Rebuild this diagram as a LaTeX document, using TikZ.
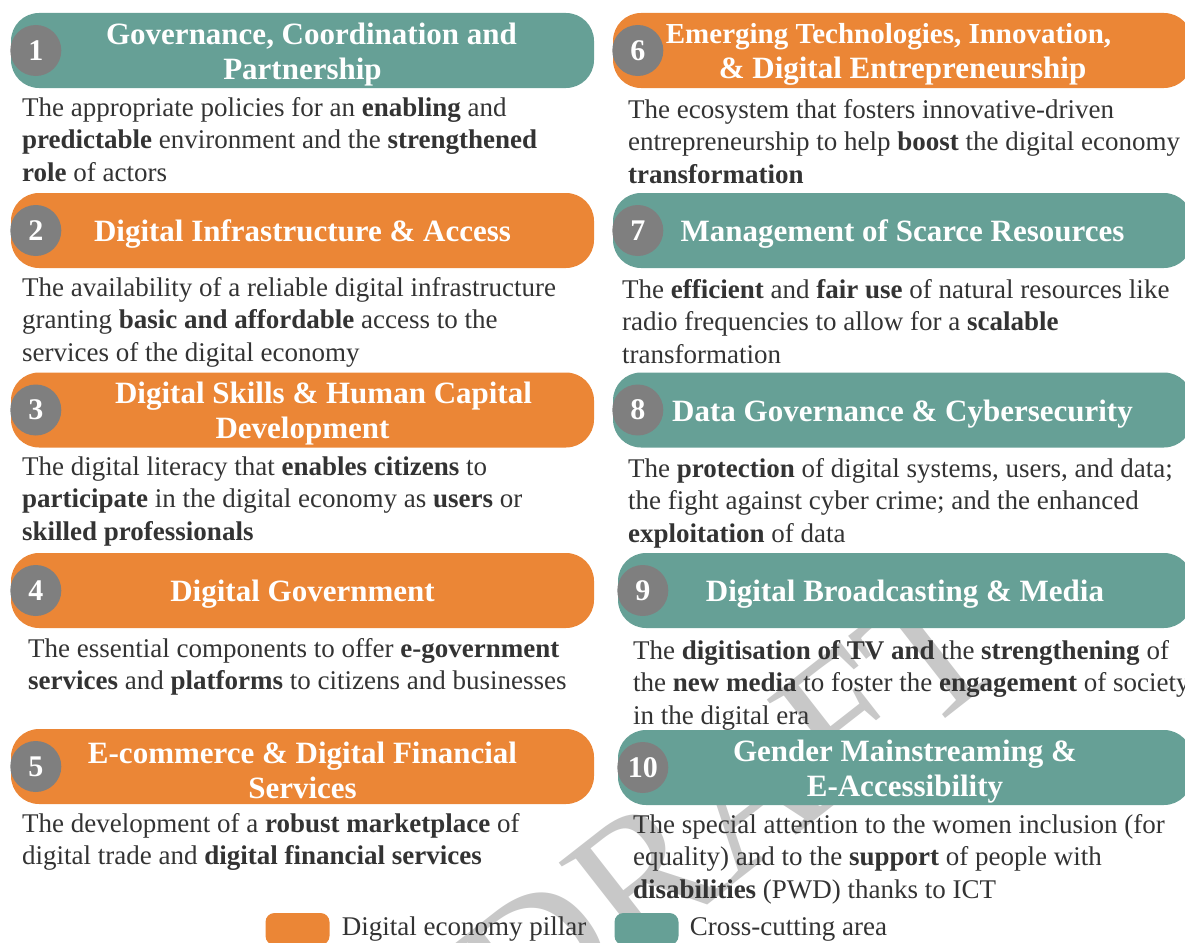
\documentclass[tikz,border=0pt]{standalone}
\usepackage{fontspec}
\setmainfont{Liberation Serif}
\usetikzlibrary{positioning}
\definecolor{pillarorange}{HTML}{EB8636}
\definecolor{crossteal}{HTML}{66A096}
\definecolor{dotgray}{HTML}{7F7F7F}
\definecolor{bodytext}{HTML}{333333}
\definecolor{draftgray}{HTML}{C8C8C8}
\tikzset{banner/.style={rounded corners=28pt, minimum height=75pt, inner sep=0pt},
         pillar/.style={banner, fill=pillarorange},
         cross/.style={banner, fill=crossteal},
         head/.style={inner sep=0pt, text=white, align=center, font=\fontsize{31}{35}\selectfont\bfseries},
         numdot/.style={circle, fill=dotgray, minimum size=51pt, inner sep=0pt, text=white, font=\fontsize{30}{30}\selectfont\bfseries},
         blurb/.style={anchor=base west, inner sep=0pt, align=left, text=bodytext, font=\fontsize{27}{32.8}\selectfont},
         key/.style={rounded corners=9pt, minimum width=64pt, minimum height=32pt, inner sep=0pt},
         keytext/.style={inner sep=0pt, text=bodytext, font=\fontsize{27}{30}\selectfont}}

\begin{document}
\begin{tikzpicture}[x=1pt,y=-1pt]
   \useasboundingbox (0,0) rectangle (1185,942);
   \clip (0,0) rectangle (1185,942);
   % watermark
   \node[rotate=38, anchor=base east, inner sep=0pt, text=draftgray, font=\fontsize{190}{190}\selectfont] (draft) at (1014,665) {DRAFT};
   % left column: pillars
   \node[cross,  minimum width=583pt] (b1) at (302.5,50.5)  {};
   \node[pillar, minimum width=583pt] (b2) at (302.5,230.5) {};
   \node[pillar, minimum width=583pt] (b3) at (302.5,410)   {};
   \node[pillar, minimum width=583pt] (b4) at (302.5,590.5) {};
   \node[pillar, minimum width=583pt] (b5) at (302.5,766.5) {};
   % right column
   \node[pillar, minimum width=579pt] (b6)  at (902.5,50.5)  {};
   \node[cross,  minimum width=579pt] (b7)  at (902.5,230.5) {};
   \node[cross,  minimum width=579pt] (b8)  at (902.5,410)   {};
   \node[cross,  minimum width=574pt] (b9)  at (905,590.5)   {};
   \node[cross,  minimum width=574pt] (b10) at (905,767.5)   {};
   % numbers
   \node[numdot] (n1)  at ([xshift=25pt]b1.west)  {1};
   \node[numdot] (n2)  at ([xshift=25pt]b2.west)  {2};
   \node[numdot] (n3)  at ([xshift=25pt]b3.west)  {3};
   \node[numdot] (n4)  at ([xshift=25pt]b4.west)  {4};
   \node[numdot] (n5)  at ([xshift=25pt]b5.west)  {5};
   \node[numdot] (n6)  at ([xshift=25pt]b6.west)  {6};
   \node[numdot] (n7)  at ([xshift=25pt]b7.west)  {7};
   \node[numdot] (n8)  at ([xshift=25pt]b8.west)  {8};
   \node[numdot] (n9)  at ([xshift=25pt]b9.west)  {9};
   \node[numdot] (n10) at ([xshift=25pt]b10.west) {10};
   % titles
   \node[head] (h1)  at ([yshift=-4pt]b1.center)  {\hspace*{18pt}Governance, Coordination and\\Partnership};
   \node[head] (h2)  at ([yshift=-4pt]b2.center)  {Digital Infrastructure \& Access};
   \node[head] (h3)  at ([yshift=-4pt]b3.center)  {\hspace*{42pt}Digital Skills \& Human Capital\\Development};
   \node[head] (h4)  at ([yshift=-4pt]b4.center)  {Digital Government};
   \node[head] (h5)  at ([yshift=-4pt]b5.center)  {E-commerce \& Digital Financial\\Services};
   \node[head] (h6)  at ([yshift=-4pt]b6.center)  {{\fontsize{29}{35}\selectfont Emerging Technologies, Innovation,}\hspace*{28pt}\\\& Digital Entrepreneurship};
   \node[head] (h7)  at ([yshift=-4pt]b7.center)  {Management of Scarce Resources};
   \node[head] (h8)  at ([yshift=-4pt]b8.center)  {Data Governance \& Cybersecurity};
   \node[head] (h9)  at ([yshift=-4pt]b9.center)  {Digital Broadcasting \& Media};
   \node[head] (h10) at ([yshift=-4pt]b10.center) {Gender Mainstreaming \&\\E-Accessibility};
   % descriptions (placed at the baseline of their last line)
   \node[blurb] (t1) at (22,181.6) {The appropriate policies for an \textbf{enabling} and\\\textbf{predictable} environment and the \textbf{strengthened}\\\textbf{role} of actors};
   \node[blurb] (t2) at (22,361.6) {The availability of a reliable digital infrastructure\\granting \textbf{basic and affordable} access to the\\services of the digital economy};
   \node[blurb] (t3) at (22,540.6) {The digital literacy that \textbf{enables citizens} to\\\textbf{participate} in the digital economy as \textbf{users} or\\\textbf{skilled professionals}};
   \node[blurb] (t4) at (28,689.8) {The essential components to offer \textbf{e-government}\\\textbf{services} and \textbf{platforms} to citizens and businesses};
   \node[blurb] (t5) at (22,864.8) {The development of a \textbf{robust marketplace} of\\digital trade and \textbf{digital financial services}};
   \node[blurb] (t6) at (628,183.6) {The ecosystem that fosters innovative-driven\\entrepreneurship to help \textbf{boost} the digital economy\\\textbf{transformation}};
   \node[blurb] (t7) at (622,363.6) {The \textbf{efficient} and \textbf{fair use} of natural resources like\\radio frequencies to allow for a \textbf{scalable}\\transformation};
   \node[blurb] (t8) at (628,542.6) {The \textbf{protection} of digital systems, users, and data;\\the fight against cyber crime; and the enhanced\\\textbf{exploitation} of data};
   \node[blurb] (t9) at (633,724.6) {The \textbf{digitisation of TV and} the \textbf{strengthening} of\\the \textbf{new media} to foster the \textbf{engagement} of society\\in the digital era};
   \node[blurb] (t10) at (633,898.6) {The special attention to the women inclusion (for\\equality) and to the \textbf{support} of people with\\\textbf{disabilities} (PWD) thanks to ICT};
   % legend
   \node[key, fill=pillarorange] (k1) at (297.5,929) {};
   \node[keytext, right=12pt of k1] (l1) {Digital economy pillar};
   \node[key, fill=crossteal] (k2) at (646.5,929) {};
   \node[keytext, right=11pt of k2] (l2) {Cross-cutting area};
\end{tikzpicture}
\end{document}
